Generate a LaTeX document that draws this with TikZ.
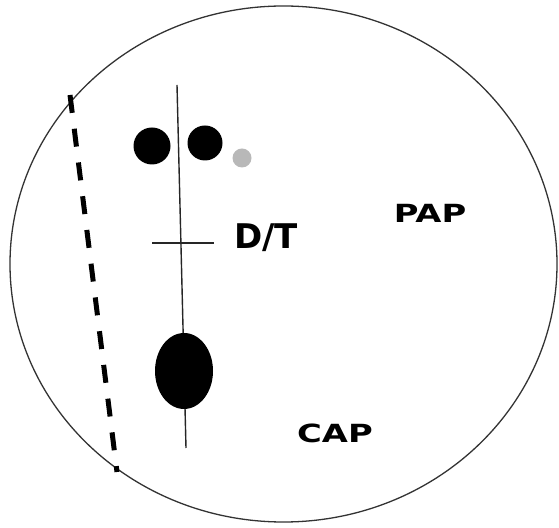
\documentclass[tikz,border=0pt]{standalone}
\usepackage{fontspec}
\setsansfont{DejaVu Sans}
\usetikzlibrary{positioning, calc, shapes.geometric}

\begin{document}
\begin{tikzpicture}[
    x=1pt, y=1pt,
    blob/.style={circle, fill=black, inner sep=0pt},
    axisline/.style={black!85, line width=1.4pt},
    label/.style={font=\sffamily\bfseries\fontsize{34}{34}\selectfont},
    sitelabel/.style={font=\sffamily\bfseries\fontsize{25}{25}\selectfont, xscale=1.35, transform shape},
]
\useasboundingbox (0,0) rectangle (559,527);

% ===================== OUTLINE =====================
\draw[black!80, line width=1.3pt] (283.5,263) ellipse [x radius=273.5, y radius=258];

% ===================== AXIS =====================
\coordinate (axtop) at (177,442);
\coordinate (axbot) at (186,79);
\draw[axisline] (axtop) -- (axbot);

\coordinate (tickl) at (152,284);
\coordinate (tickr) at (214,284);
\draw[axisline] (tickl) -- (tickr);

% ===================== DOTS =====================
\node[blob, minimum size=37pt] (dotl) at (152,381) {};
\node[blob, minimum size=35pt] (dotr) at (205,384) {};
\node[blob, fill=black!28, minimum size=19pt] (dotg) at (242,369) {};

% big oval on the axis
\node[ellipse, fill=black, inner sep=0pt, minimum width=58pt, minimum height=76pt] (oval) at (184,156) {};

% ===================== DASHED LINE =====================
\coordinate (dtop) at (70,432);
\coordinate (dbot) at (117,55);
\draw[line width=5pt, dash pattern=on 18pt off 16pt] (dtop) -- (dbot);

% ===================== LABELS =====================
\node[label] (dt) at (266,289) {D/T};
\node[sitelabel] (pap) at (430,314) {PAP};
\node[sitelabel] (cap) at (335,94) {CAP};

\end{tikzpicture}
\end{document}
